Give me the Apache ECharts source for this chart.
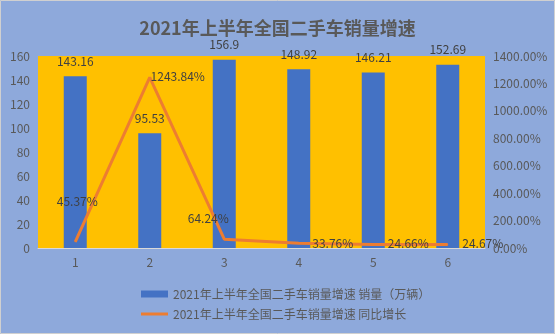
<!DOCTYPE html>
<html><head><meta charset="utf-8">
<script src="https://cdn.jsdelivr.net/npm/echarts@6/dist/echarts.min.js"></script>
<style>html,body{margin:0;padding:0;background:#8EA9DB}#c{width:555px;height:334px}</style>
</head><body><div id="c"></div>
<script>
var categories = ['1','2','3','4','5','6'];
var sales = [143.16, 95.53, 156.9, 148.92, 146.21, 152.69];
var growth = [45.37, 1243.84, 64.24, 33.76, 24.66, 24.67];
var seriesNames = ['2021年上半年全国二手车销量增速 销量（万辆）', '2021年上半年全国二手车销量增速 同比增长'];
var titleText = '2021年上半年全国二手车销量增速';

var labelOffsets = [[2,-40],[28,-1],[-16,-21],[34,0],[35,-1],[35,-1]];
var FONT = '"Microsoft YaHei","Noto Sans CJK SC",sans-serif';
var chart = echarts.init(document.getElementById('c'));
chart.setOption({
  backgroundColor: '#8EA9DB',
  textStyle: {fontFamily: FONT},
  title: {text: titleText, left: 'center', top: 14,
    textStyle: {fontSize: 18, fontWeight: 'bold', color: '#595959', fontFamily: FONT}},
  graphic: [{type:'rect', shape:{x:0.5,y:0.5,width:554,height:333}, style:{fill:null, stroke:'#D0D0D0', lineWidth:1}, silent:true, z:100}],
  legend: {orient: 'vertical', left: 136, top: 283, itemGap: 8, itemWidth: 27, itemHeight: 7,
    symbolKeepAspect: true,
    textStyle: {color: '#595959', fontSize: 12, fontFamily: FONT},
    data: [{name: seriesNames[0], icon: 'rect'},
           {name: seriesNames[1], icon: 'path://M0,0H27V3H0Z', itemStyle: {color: '#ED7D31'}}]},
  grid: {left: 38, right: 70, top: 56, bottom: 86, show: true, backgroundColor: '#FFC000', borderWidth: 0},
  xAxis: {type: 'category', data: categories,
    axisTick: {show: false}, axisLine: {lineStyle: {color: '#D9D9D9', width: 1}},
    axisLabel: {color: '#595959', fontSize: 12, margin: 8}},
  yAxis: [
    {type: 'value', min: 0, max: 160, interval: 20, splitLine: {show: false},
      axisLabel: {color: '#595959', fontSize: 12, margin: 8}},
    {type: 'value', min: 0, max: 1400, interval: 200, splitLine: {show: false},
      axisLabel: {color: '#595959', fontSize: 12, margin: 8, formatter: function(v){return v.toFixed(2)+'%';}}}
  ],
  series: [
    {name: seriesNames[0], type: 'bar', data: sales, barWidth: 23,
      itemStyle: {color: '#4472C4'},
      label: {show: true, position: 'top', distance: 9, color: '#404040', fontSize: 12}},
    {name: seriesNames[1], type: 'line', yAxisIndex: 1, symbol: 'circle', symbolSize: 1,
      lineStyle: {color: '#ED7D31', width: 3}, itemStyle: {color: '#ED7D31'},
      data: growth.map(function(v, i){
        return {value: v, label: {offset: labelOffsets[i]}};
      }),
      label: {show: true, position: 'inside', color: '#404040', fontSize: 12,
        formatter: function(p){return p.value+'%';}}}
  ]
});
</script></body></html>
